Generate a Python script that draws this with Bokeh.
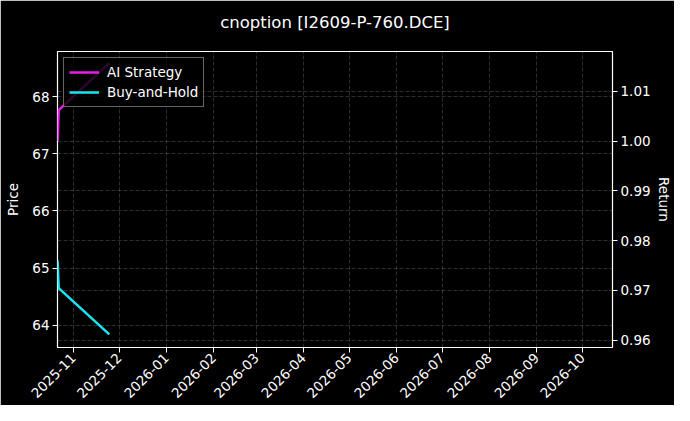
import math
import pandas as pd
from bokeh.plotting import figure
from bokeh.models import (Range1d, LinearAxis, Grid, MonthsTicker, DatetimeTickFormatter,
                          SingleIntervalTicker, NumeralTickFormatter, Title)
from bokeh.embed import file_html
from bokeh.resources import INLINE

# --- data ---
chart_title = "cnoption [I2609-P-760.DCE]"
dates = pd.to_datetime(["2025-10-21 16:00", "2025-10-22 10:00", "2025-11-24 15:00"])
ai_strategy = [1.0000, 1.0062, 1.0157]     # right axis (Return)
buy_and_hold = [65.13, 64.65, 63.84]       # left axis (Price)

x_start, x_end = pd.Timestamp("2025-10-21 15:00"), pd.Timestamp("2026-10-20 20:00")
price_lo, price_hi = 63.61, 68.79
ret_lo, ret_hi = 0.9585, 1.0180

FONT = "DejaVu Sans"
FG = "white"

p = figure(
    width=674, height=405,
    x_axis_type="datetime",
    x_range=Range1d(x_start, x_end),
    y_range=Range1d(price_lo, price_hi),
    title=chart_title,
    toolbar_location=None,
    output_backend="svg",
    background_fill_color="black",
    border_fill_color="black",
    outline_line_color=FG,
    outline_line_width=1.2,
    min_border_left=57, min_border_right=55, min_border_top=51, min_border_bottom=54,
)
p.extra_y_ranges = {"ret": Range1d(ret_lo, ret_hi)}

p.title.align = "center"
p.title.text_color = FG
p.title.text_font = FONT
p.title.text_font_size = "16.5px"
p.title.text_font_style = "normal"
p.title.standoff = 10
# empty spacer title between the real title and the frame lifts the title up
p.add_layout(Title(text=" ", text_font_size="9px", standoff=3), "above")

# left price axis
p.yaxis.axis_label = "Price"
p.yaxis.ticker = SingleIntervalTicker(interval=1)

# right return axis
ret_axis = LinearAxis(y_range_name="ret", axis_label="Return",
                      ticker=SingleIntervalTicker(interval=0.01),
                      formatter=NumeralTickFormatter(format="0.00"))
p.add_layout(ret_axis, "right")

# monthly date axis
p.xaxis.ticker = MonthsTicker(months=list(range(12)))
p.xaxis.formatter = DatetimeTickFormatter(months="%Y-%m", days="%Y-%m")
p.xaxis.major_label_orientation = math.pi / 4

for ax in p.axis:
    ax.axis_line_color = None
    ax.major_tick_line_color = FG
    ax.major_tick_in = 0
    ax.major_tick_out = 5
    ax.minor_tick_line_color = None
    ax.major_label_text_color = FG
    ax.major_label_text_font = FONT
    ax.major_label_text_font_size = "13.5px"
    ax.major_label_standoff = 3
    ax.axis_label_text_color = FG
    ax.axis_label_text_font = FONT
    ax.axis_label_text_font_size = "13.5px"
    ax.axis_label_text_font_style = "normal"
    ax.axis_label_standoff = 2
p.yaxis[0].axis_label_standoff = 8

# dashed grids for both y axes and x
for g in p.grid:
    g.grid_line_color = FG
    g.grid_line_alpha = 0.3
    g.grid_line_dash = "4 2"
    g.grid_line_width = 0.6
ret_grid = Grid(dimension=1, axis=ret_axis, y_range_name="ret",
                grid_line_color=FG, grid_line_alpha=0.3, grid_line_dash="4 2",
                grid_line_width=0.6)
p.add_layout(ret_grid)

p.line(dates, ai_strategy, y_range_name="ret", line_color="#ea1de8", line_width=2.5,
       legend_label="AI Strategy")
p.line(dates, buy_and_hold, line_color="#17e6f0", line_width=2.5,
       legend_label="Buy-and-Hold")

lg = p.legend[0]
lg.location = "top_left"
lg.margin = 6
lg.padding = 5
lg.spacing = 2
lg.glyph_width = 30
lg.glyph_height = 18
lg.label_height = 18
lg.label_standoff = 8
lg.label_text_color = FG
lg.label_text_font = FONT
lg.label_text_font_size = "13.5px"
lg.background_fill_color = "black"
lg.background_fill_alpha = 0.8
lg.border_line_color = "#cccccc"
lg.border_line_width = 1

open("out.html", "w").write(file_html(p, INLINE))
